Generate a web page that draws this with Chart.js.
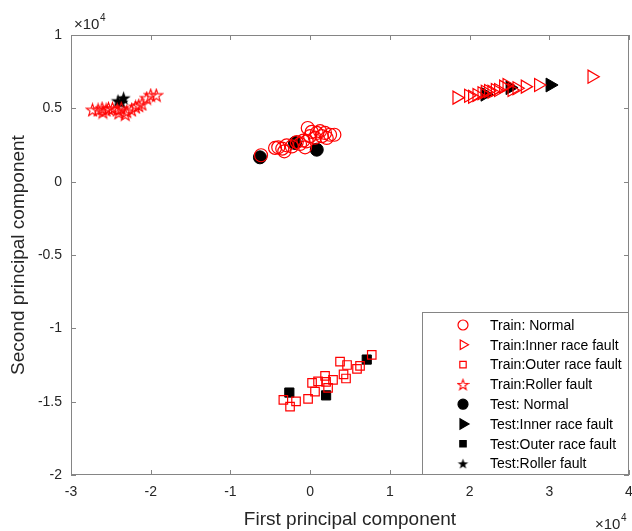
<!DOCTYPE html>
<html>
<head>
<meta charset="utf-8">
<script src="https://cdn.jsdelivr.net/npm/chart.js@4"></script>
<style>
  html, body { margin: 0; padding: 0; background: #fff; }
  #wrap { width: 632px; height: 531px; }
</style>
</head>
<body>
<div id="wrap"><canvas id="pca"></canvas></div>
<script>
// PCA scores, first and second principal component
const trainNormalX = [-6160, -4400, -4000, -3500, -3240, -2940, -2300, -1680, -1270, -850, -640, -430, -300, -10, 200, 600, 830, 1240, 1460, 1870, 2080, 2500, 3040];
const trainNormalY = [1800, 2300, 2340, 2250, 2070, 2480, 2400, 2700, 2570, 2800, 2340, 2750, 3660, 3100, 3400, 3000, 3320, 3440, 3100, 3320, 2980, 3200, 3200];

const trainInnerX = [18390, 19850, 20350, 20900, 21530, 21940, 22360, 22780, 23200, 23610, 24240, 24670, 25300, 25920, 26960, 28630, 35330];
const trainInnerY = [5730, 5860, 5790, 5910, 6030, 6130, 6180, 6130, 6250, 6250, 6480, 6590, 6250, 6370, 6480, 6590, 7160];

const trainOuterX = [-3360, -2520, -1770, -260, 240, 610, 990, 1870, 2000, 2250, 2870, 3750, 4190, 4500, 4630, 5880, 6260, 7730];
const trainOuterY = [-14880, -15340, -14980, -14810, -13720, -14320, -13620, -13240, -13650, -14060, -13520, -12270, -13140, -13420, -12500, -12770, -12560, -11810];

const trainRollerX = [-27300, -26600, -26100, -25600, -25300, -24800, -24200, -23700, -23200, -23000, -22400, -21900, -21500, -21100, -20500, -20000, -19300, -24000, -26000];
const trainRollerY = [4900, 4900, 5000, 4900, 5000, 5000, 4900, 5000, 4600, 4800, 4900, 5100, 5200, 5300, 5700, 5900, 5900, 4700, 4750];

const testNormalX = [-6300, -1900, 830];
const testNormalY = [1660, 2640, 2180];
const testInnerX = [21940, 25080, 30100];
const testInnerY = [5960, 6410, 6590];
const testOuterX = [-2610, 2000, 7100];
const testOuterY = [-14380, -14570, -12130];
const testRollerX = [-24100, -23400, -23700];
const testRollerY = [5500, 5700, 5400];

const xTicks = [-30000, -20000, -10000, 0, 10000, 20000, 30000, 40000];
const yTicks = [-20000, -15000, -10000, -5000, 0, 5000, 10000];

const labels = [
  'Train: Normal', 'Train:Inner race fault', 'Train:Outer race fault', 'Train:Roller fault',
  'Test: Normal', 'Test:Inner race fault', 'Test:Outer race fault', 'Test:Roller fault'
];

const RED = '#ff0000';
const FONT = 'Arial, "Liberation Sans", sans-serif';
const TXT = '#262626';
const AXIS = '#858585';

function pts(xs, ys) {
  return xs.map((x, i) => ({ x: x, y: ys[i] }));
}

// five-pointed star marker (hollow or filled)
function starImage(size, color, filled) {
  const c = document.createElement('canvas');
  c.width = size; c.height = size;
  const g = c.getContext('2d');
  const cx = size / 2, cy = size / 2 + 0.6;
  const ro = size / 2 - 1, ri = ro * 0.4;
  g.beginPath();
  for (let k = 0; k < 10; k++) {
    const r = k % 2 === 0 ? ro : ri;
    const a = -Math.PI / 2 + k * Math.PI / 5;
    const px = cx + r * Math.cos(a), py = cy + r * Math.sin(a);
    if (k === 0) g.moveTo(px, py); else g.lineTo(px, py);
  }
  g.closePath();
  if (filled) { g.fillStyle = color; g.fill(); }
  else { g.strokeStyle = color; g.lineWidth = 1.1; g.stroke(); }
  return c;
}

const redStar = starImage(15, RED, false);
const blackStar = starImage(17, '#000', true);
const redStarSmall = starImage(13, RED, false);
const blackStarSmall = starImage(13, '#000', true);

function hollow(label, data, style, radius, rotation) {
  return {
    label: label, data: data, pointStyle: style, pointRadius: radius,
    pointRotation: rotation || 0, borderColor: RED, backgroundColor: 'rgba(0,0,0,0)',
    pointBorderWidth: 1.2, showLine: false
  };
}
function solid(label, data, style, radius, rotation) {
  return {
    label: label, data: data, pointStyle: style, pointRadius: radius,
    pointRotation: rotation || 0, borderColor: '#000', backgroundColor: '#000',
    pointBorderWidth: 1, showLine: false
  };
}

const datasets = [
  hollow(labels[0], pts(trainNormalX, trainNormalY), 'circle', 6.5),
  hollow(labels[1], pts(trainInnerX, trainInnerY), 'triangle', 7.5, 90),
  hollow(labels[2], pts(trainOuterX, trainOuterY), 'rect', 6),
  hollow(labels[3], pts(trainRollerX, trainRollerY), redStar, 7),
  solid(labels[4], pts(testNormalX, testNormalY), 'circle', 6.5),
  solid(labels[5], pts(testInnerX, testInnerY), 'triangle', 8, 90),
  solid(labels[6], pts(testOuterX, testOuterY), 'rect', 6.5),
  solid(labels[7], pts(testRollerX, testRollerY), blackStar, 8)
];

// legend markers, slightly smaller than the plotted ones
const legendMarks = [
  { style: 'circle', r: 5, rot: 0, fill: null, stroke: RED },
  { style: 'triangle', r: 5.5, rot: 90, fill: null, stroke: RED },
  { style: 'rect', r: 4.5, rot: 0, fill: null, stroke: RED },
  { style: redStarSmall, r: 6, rot: 0, fill: null, stroke: RED },
  { style: 'circle', r: 5, rot: 0, fill: '#000', stroke: '#000' },
  { style: 'triangle', r: 6, rot: 90, fill: '#000', stroke: '#000' },
  { style: 'rect', r: 4.5, rot: 0, fill: '#000', stroke: '#000' },
  { style: blackStarSmall, r: 6, rot: 0, fill: '#000', stroke: '#000' }
];

function exponent(ctx, x, y) {
  ctx.font = '15px ' + FONT;
  ctx.fillText('\u00d710', x, y);
  const w = ctx.measureText('\u00d710').width;
  ctx.font = '10px ' + FONT;
  ctx.fillText('4', x + w + 0.5, y - 8);
}

const frame = {
  id: 'frame',
  afterDraw(chart) {
    const { ctx, chartArea: a, scales: { x, y } } = chart;
    ctx.save();
    ctx.strokeStyle = AXIS;
    ctx.lineWidth = 1;
    ctx.strokeRect(a.left + 0.5, a.top + 0.5, a.right - a.left - 1, a.bottom - a.top - 1);
    ctx.beginPath();
    x.ticks.forEach(t => {
      const px = Math.round(x.getPixelForValue(t.value)) + 0.5;
      ctx.moveTo(px, a.bottom); ctx.lineTo(px, a.bottom - 5);
      ctx.moveTo(px, a.top); ctx.lineTo(px, a.top + 5);
    });
    y.ticks.forEach(t => {
      const py = Math.round(y.getPixelForValue(t.value)) + 0.5;
      ctx.moveTo(a.left, py); ctx.lineTo(a.left + 5, py);
      ctx.moveTo(a.right, py); ctx.lineTo(a.right - 5, py);
    });
    ctx.stroke();

    // exponent labels
    ctx.fillStyle = TXT;
    ctx.textBaseline = 'alphabetic';
    ctx.textAlign = 'left';
    exponent(ctx, a.left + 3, a.top - 6);
    exponent(ctx, a.right - 34, a.bottom + 54);

    // legend box
    const bx = 422, by = 312, bw = 206, bh = 162;
    ctx.fillStyle = '#fff';
    ctx.fillRect(bx, by, bw, bh);
    ctx.strokeStyle = AXIS;
    ctx.strokeRect(bx + 0.5, by + 0.5, bw, bh);
    ctx.font = '14px ' + FONT;
    ctx.textBaseline = 'middle';
    chart.data.datasets.forEach((ds, i) => {
      const ry = by + 13 + i * 19.8;
      const m = legendMarks[i];
      ctx.fillStyle = m.fill || 'rgba(0,0,0,0)';
      ctx.strokeStyle = m.stroke;
      ctx.lineWidth = 1.2;
      Chart.helpers.drawPoint(ctx, { pointStyle: m.style, radius: m.r, rotation: m.rot, borderWidth: 1.2 }, bx + 41, ry);
      ctx.fillStyle = '#000';
      ctx.fillText(ds.label, bx + 68, ry + 1);
    });
    ctx.restore();
  }
};

new Chart(document.getElementById('pca'), {
  type: 'scatter',
  data: { datasets: datasets },
  options: {
    responsive: true,
    maintainAspectRatio: false,
    animation: false,
    layout: { autoPadding: false, padding: { top: 35, right: 3, left: 0, bottom: 0 } },
    plugins: {
      legend: { display: false },
      tooltip: { enabled: false }
    },
    scales: {
      x: {
        type: 'linear',
        min: -30000, max: 40000,
        afterFit(scale) {
          scale.height = 56;
          scale.paddingLeft = 0;
          scale.paddingRight = 0;
        },
        afterBuildTicks(scale) { scale.ticks = xTicks.map(v => ({ value: v })); },
        grid: { display: false, drawTicks: false },
        border: { display: false },
        ticks: {
          padding: 9,
          color: TXT,
          font: { family: FONT, size: 14 },
          callback: v => String(v / 10000)
        },
        title: {
          display: true,
          text: 'First principal component',
          color: TXT,
          font: { family: FONT, size: 19 },
          padding: { top: 0, bottom: 0 }
        }
      },
      y: {
        type: 'linear',
        min: -20000, max: 10000,
        afterFit(scale) {
          scale.width = 71;
          scale.paddingTop = 0;
          scale.paddingBottom = 0;
        },
        afterBuildTicks(scale) { scale.ticks = yTicks.map(v => ({ value: v })); },
        grid: { display: false, drawTicks: false },
        border: { display: false },
        ticks: {
          padding: 9,
          color: TXT,
          font: { family: FONT, size: 14 },
          callback: v => String(v / 10000)
        },
        title: {
          display: true,
          text: 'Second principal component',
          color: TXT,
          font: { family: FONT, size: 19 },
          padding: { top: 7, bottom: 0 }
        }
      }
    }
  },
  plugins: [frame]
});
</script>
</body>
</html>
